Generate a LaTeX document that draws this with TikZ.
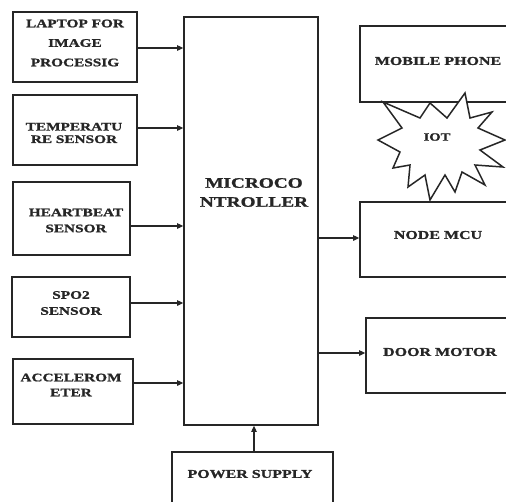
\documentclass[tikz,border=0pt]{standalone}
\usepackage{fontspec}
\setmainfont{Liberation Serif}[FakeStretch=1.33, BoldFeatures={FakeBold=1.2}]
\usetikzlibrary{arrows.meta}
\tikzset{
  blk/.style={draw=black!85, line width=1.7pt, rectangle, inner sep=0pt},
  lbl/.style={text=black!85, align=center, inner sep=0pt, font=\bfseries\fontsize{12}{16}\selectfont},
  conn/.style={draw=black!85, line width=1.1pt, -{Triangle[length=6pt,width=5.5pt]}},
}
\begin{document}
\begin{tikzpicture}[x=1pt,y=-1pt]
\useasboundingbox (0,0) rectangle (506,501);
\clip (0,0) rectangle (506,501);
% boxes
\node[blk, minimum width=124pt, minimum height=70pt] (b1) at (75,47) {};
\node[blk, minimum width=124pt, minimum height=70pt] (b2) at (75,130) {};
\node[blk, minimum width=117pt, minimum height=73pt] (b3) at (71.5,218.5) {};
\node[blk, minimum width=118pt, minimum height=60pt] (b4) at (71,307) {};
\node[blk, minimum width=120pt, minimum height=65pt] (b5) at (73,391.5) {};
\node[blk, minimum width=134pt, minimum height=408pt] (mc) at (251,221) {};
\node[blk, minimum width=160pt, minimum height=76pt] (mob) at (440,64) {};
\node[blk, minimum width=160pt, minimum height=75pt] (nmcu) at (440,239.5) {};
\node[blk, minimum width=154pt, minimum height=75pt] (door) at (443,355.5) {};
\node[blk, minimum width=161pt, minimum height=68pt] (ps) at (252.5,486) {};
% texts
\node[lbl, font=\bfseries\fontsize{11.5}{19.5}\selectfont] (t1) at (75,43) {LAPTOP FOR\\IMAGE\\PROCESSIG};
\node[lbl, font=\bfseries\fontsize{11.5}{12.5}\selectfont] (t2) at (74,133) {TEMPERATU\\RE SENSOR};
\node[lbl, font=\bfseries\fontsize{11.5}{16}\selectfont] (t3) at (76,220.5) {HEARTBEAT\\SENSOR};
\node[lbl, font=\bfseries\fontsize{11.5}{16}\selectfont] (t4) at (71,303) {SPO2\\SENSOR};
\node[lbl, font=\bfseries\fontsize{11.5}{15}\selectfont] (t5) at (71,385) {ACCELEROM\\ETER};
\node[lbl, font=\bfseries\fontsize{14.5}{19}\selectfont] (tmc) at (254,192.5) {MICROCO\\NTROLLER};
\node[lbl] (tmob) at (438,61) {MOBILE PHONE};
\node[lbl] (tnm) at (438,235) {NODE MCU};
\node[lbl] (tdoor) at (440,352) {DOOR MOTOR};
\node[lbl] (tps) at (250,474) {POWER SUPPLY};
% IOT starburst
\draw[draw=black!85, line width=1.5pt, fill=white, line join=miter]
  (465,93) -- (470,118) -- (492,112) -- (478,128) -- (505,140) -- (480,150)
  -- (503,167) -- (475,165) -- (485,185) -- (462,172) -- (455,192) -- (445,175)
  -- (430,200) -- (425,175) -- (408,187) -- (410,165) -- (393,168) -- (400,152)
  -- (378,140) -- (402,128) -- (383,102) -- (420,118) -- (430,103) -- (447,118) -- cycle;
\node[lbl, font=\bfseries\fontsize{11}{13}\selectfont] (tiot) at (437,137) {IOT};
% connectors
\draw[conn] ([yshift=-1pt]b1.east) -- ([yshift=-1pt]b1.east -| mc.west);
\draw[conn] ([yshift=2pt]b2.east) -- ([yshift=2pt]b2.east -| mc.west);
\draw[conn] ([yshift=-7.5pt]b3.east) -- ([yshift=-7.5pt]b3.east -| mc.west);
\draw[conn] ([yshift=4pt]b4.east) -- ([yshift=4pt]b4.east -| mc.west);
\draw[conn] ([yshift=8.5pt]b5.east) -- ([yshift=8.5pt]b5.east -| mc.west);
\draw[conn] ([yshift=1.5pt]mc.east |- nmcu.west) -- ([yshift=1.5pt]nmcu.west);
\draw[conn] ([yshift=2.5pt]mc.east |- door.west) -- ([yshift=2.5pt]door.west);
\draw[conn] ([xshift=1.5pt]ps.north) -- ([xshift=1.5pt]ps.north |- mc.south);
\end{tikzpicture}
\end{document}
